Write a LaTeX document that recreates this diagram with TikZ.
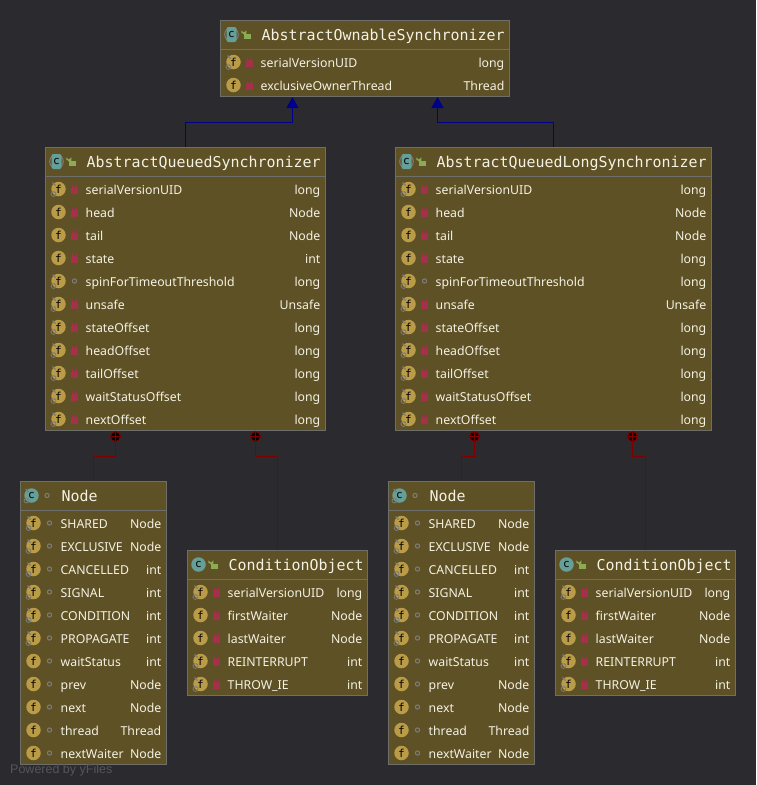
\documentclass[tikz,border=0pt]{standalone}
\usepackage{fontspec}
\usepackage{xcolor}
\usetikzlibrary{arrows.meta, positioning}
\newfontfamily\rowfont{Noto Sans}
\newfontfamily\titlefont{DejaVu Sans Mono}
\newfontfamily\footfont{Liberation Sans}

\definecolor{bgdark}{HTML}{2B2B2F}
\definecolor{boxfill}{HTML}{5F5126}
\definecolor{boxline}{HTML}{6E6E6A}
\definecolor{rowtext}{HTML}{F4F2E4}
\definecolor{extblue}{HTML}{000088}
\definecolor{innerred}{HTML}{800000}
\definecolor{fgold}{HTML}{BA9C48}
\definecolor{cteal}{HTML}{659F99}
\definecolor{lockred}{HTML}{A5304C}
\definecolor{lockgreen}{HTML}{8CAB55}
\definecolor{markgray}{HTML}{7B7B78}
\definecolor{footgray}{HTML}{56565A}

\tikzset{
    classframe/.style={rectangle, draw=boxline, fill=boxfill, line width=1pt, inner sep=0pt},
    rowname/.style={anchor=base west, inner sep=0pt, text=rowtext, font=\rowfont\fontsize{12.3}{15}\selectfont},
    rowtype/.style={anchor=base east, inner sep=0pt, text=rowtext, font=\rowfont\fontsize{12.3}{15}\selectfont},
    classtitle/.style={anchor=base west, inner sep=0pt, text=rowtext, font=\titlefont\fontsize{14.95}{17}\selectfont},
    ficon/.style={circle, fill=fgold, minimum size=14.5pt, inner sep=0pt, text=black, font=\titlefont\fontsize{11}{11}\selectfont},
    cicon/.style={circle, fill=cteal, minimum size=14.5pt, inner sep=0pt, text=black, font=\titlefont\fontsize{11}{11}\selectfont},
    extends/.style={draw=extblue, line width=1pt, -{Triangle[width=12pt,length=11pt,fill=extblue]}},
    innerof/.style={draw=innerred, line width=1pt},
    plusmark/.style={circle, draw=innerred, fill=black, line width=1pt, minimum size=10pt, inner sep=0pt,
        path picture={\draw[innerred, line width=1.4pt]
            (path picture bounding box.west) -- (path picture bounding box.east)
            (path picture bounding box.north) -- (path picture bounding box.south);}},
    % small overlays and modifiers
    staticmarks/.pic={
        \draw[markgray, line width=1.4pt] (-6,-6.5) -- (-3,-3.5);
        \draw[markgray, line width=1.2pt, dash pattern=on 1pt off 0.6pt] (-5,5) circle (2.4);
    },
    fplain/.pic={\node[ficon] (-icon) {f};},
    fstatic/.pic={\node[ficon] (-icon) {f}; \pic {staticmarks};},
    cplain/.pic={\node[cicon] (-icon) {c};},
    cstatic/.pic={\node[cicon] (-icon) {c}; \pic {staticmarks};},
    cabstract/.pic={
        \draw[markgray, line width=1pt] (0,0) circle (6.8);
        \fill[cteal, rounded corners=2pt] (-5,-7.5) rectangle (5,7.5);
        \node[inner sep=0pt, text=black, font=\titlefont\fontsize{11}{11}\selectfont] (-icon) {c};
    },
    lockshut/.pic={
        \draw[lockred, line width=1.3pt] (-2,-0.5) -- (-2,-2.6) arc[start angle=180, end angle=0, x radius=2, y radius=1.6] -- (2,-0.5);
        \fill[lockred] (-3.5,-0.8) rectangle (3.5,4.5);
    },
    lockopen/.pic={
        \draw[lockgreen, line width=1.3pt] (-1.4,-0.5) -- (-1.4,-2.6) arc[start angle=0, end angle=180, x radius=1.8, y radius=1.6] -- (-5,-1.5);
        \fill[lockgreen] (-2.6,-0.5) rectangle (3.8,4.5);
    },
    dotgray/.pic={\draw[markgray, line width=1.1pt] (0,0) circle (2.1);},
}

% name, left, top, right, bottom, title, class icon, header modifier, rows
\newcommand{\classbox}[9]{
    \node[classframe, minimum width={#4-(#2)}, minimum height={#5-(#3)}] (#1) at ({(#2+#4)/2},{(#3+#5)/2}) {};
    \draw[boxline, line width=1pt] (#2,#3+29) -- (#4,#3+29);
    \pic (#1c) at (#2+11,#3+14) {#7};
    \pic (#1v) at (#2+26.5,#3+14) {#8};
    \node[classtitle] (#1t) at (#2+41,#3+19.5) {#6};
    \foreach \fname/\ftype/\fkind/\fvis [count=\i] in #9 {
        \pgfmathsetmacro\rowy{#3+41.5+23*(\i-1)}
        \pic (#1f\i) at (#2+13,\rowy) {\fkind};
        \pic (#1m\i) at (#2+29,\rowy) {\fvis};
        \node[rowname] (#1n\i) at (#2+40,\rowy+5.2) {\fname};
        \node[rowtype] (#1y\i) at (#4-5,\rowy+5.2) {\ftype};
    }
}

\newcommand{\ownerrows}{serialVersionUID/long/fstatic/lockshut, exclusiveOwnerThread/Thread/fplain/lockshut}
\newcommand{\aqsrows}{serialVersionUID/long/fstatic/lockshut, head/Node/fplain/lockshut, tail/Node/fplain/lockshut,
    state/int/fplain/lockshut, spinForTimeoutThreshold/long/fstatic/dotgray, unsafe/Unsafe/fstatic/lockshut,
    stateOffset/long/fstatic/lockshut, headOffset/long/fstatic/lockshut, tailOffset/long/fstatic/lockshut,
    waitStatusOffset/long/fstatic/lockshut, nextOffset/long/fstatic/lockshut}
\newcommand{\aqlsrows}{serialVersionUID/long/fstatic/lockshut, head/Node/fplain/lockshut, tail/Node/fplain/lockshut,
    state/long/fplain/lockshut, spinForTimeoutThreshold/long/fstatic/dotgray, unsafe/Unsafe/fstatic/lockshut,
    stateOffset/long/fstatic/lockshut, headOffset/long/fstatic/lockshut, tailOffset/long/fstatic/lockshut,
    waitStatusOffset/long/fstatic/lockshut, nextOffset/long/fstatic/lockshut}
\newcommand{\noderows}{SHARED/Node/fstatic/dotgray, EXCLUSIVE/Node/fstatic/dotgray, CANCELLED/int/fstatic/dotgray,
    SIGNAL/int/fstatic/dotgray, CONDITION/int/fstatic/dotgray, PROPAGATE/int/fstatic/dotgray,
    waitStatus/int/fplain/dotgray, prev/Node/fplain/dotgray, next/Node/fplain/dotgray,
    thread/Thread/fplain/dotgray, nextWaiter/Node/fplain/dotgray}
\newcommand{\condrows}{serialVersionUID/long/fstatic/lockshut, firstWaiter/Node/fplain/lockshut,
    lastWaiter/Node/fplain/lockshut, REINTERRUPT/int/fstatic/lockshut, THROW\_IE/int/fstatic/lockshut}

\begin{document}
\begin{tikzpicture}[x=1pt, y=-1pt]

\fill[bgdark] (0,0) rectangle (756,785);
\useasboundingbox (0,0) rectangle (756,785);

% top class
\classbox{owner}{220.5}{20.5}{509.5}{96.5}{AbstractOwnableSynchronizer}{cabstract}{lockopen}{\ownerrows}

% the two queued synchronizers
\classbox{aqs}{45.5}{147.5}{325.5}{430.5}{AbstractQueuedSynchronizer}{cabstract}{lockopen}{\aqsrows}
\classbox{aqls}{395.5}{147.5}{711.5}{430.5}{AbstractQueuedLongSynchronizer}{cabstract}{lockopen}{\aqlsrows}

% inner classes
\classbox{nodea}{20.5}{481.5}{166.5}{764.5}{Node}{cstatic}{dotgray}{\noderows}
\classbox{conda}{187.5}{550.5}{367.5}{695.5}{ConditionObject}{cplain}{lockopen}{\condrows}
\classbox{nodeb}{388.5}{481.5}{534.5}{764.5}{Node}{cstatic}{dotgray}{\noderows}
\classbox{condb}{555.5}{550.5}{735.5}{695.5}{ConditionObject}{cplain}{lockopen}{\condrows}

\coordinate (tipa) at (292.5,97);
\coordinate (tipb) at (437.5,97);
\node[plusmark] (plusa) at (115.5,436.5) {};
\node[plusmark] (plusb) at (255.5,436.5) {};
\node[plusmark] (plusc) at (474.5,436.5) {};
\node[plusmark] (plusd) at (632.5,436.5) {};

\draw[extends] (aqs.north) -- ++(0,-24.5) -| (tipa);
\draw[extends] (aqls.north) -- ++(0,-24.5) -| (tipb);

\draw[innerof] (plusa.south) -- ++(0,14.5) -| (nodea.north);
\draw[innerof] (plusb.south) -- ++(0,14.5) -| (conda.north);
\draw[innerof] (plusc.south) -- ++(0,14.5) -| (nodeb.north);
\draw[innerof] (plusd.south) -- ++(0,14.5) -| (condb.north);

\node[anchor=base west, inner sep=0pt, text=footgray, font=\footfont\fontsize{12.5}{14}\selectfont] (yfiles) at (10,773.5) {Powered by yFiles};
\end{tikzpicture}
\end{document}
